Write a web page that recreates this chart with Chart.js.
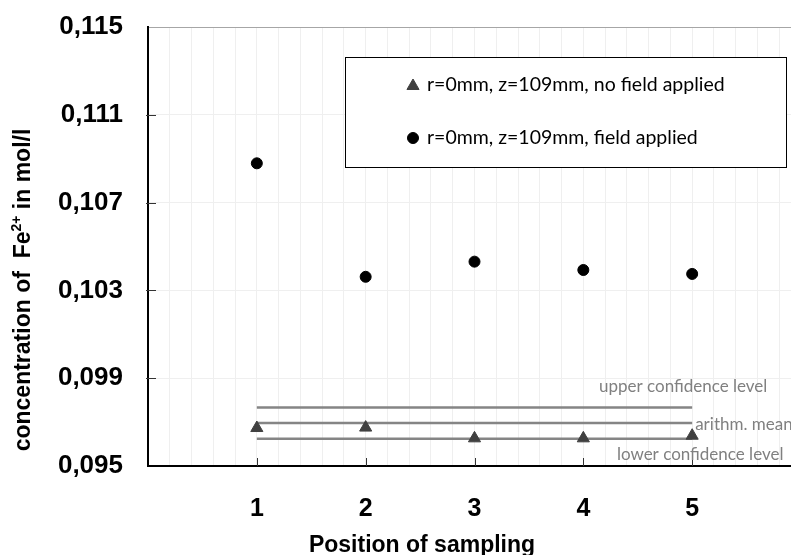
<!DOCTYPE html>
<html>
<head>
<meta charset="utf-8">
<script src="https://cdn.jsdelivr.net/npm/chart.js@4/dist/chart.umd.min.js"></script>
<style>
  html, body { margin: 0; padding: 0; background: #fff; overflow: hidden; }
  #wrap { width: 809px; height: 555px; }
</style>
</head>
<body>
<div id="wrap"><canvas id="chart"></canvas></div>
<script>
// sampling positions and measured Fe2+ concentrations (mol/l)
const positions = [1, 2, 3, 4, 5];
const noFieldValues = [0.09673, 0.09675, 0.09626, 0.09626, 0.09638];
const fieldValues = [0.10879, 0.10362, 0.10431, 0.10393, 0.10375];

// statistics of the "no field" series
const upperConfidence = 0.09766;
const arithmMean = 0.09696;
const lowerConfidence = 0.09624;
const statLabels = ['upper confidence level', 'arithm. mean', 'lower confidence level'];

const seriesLabels = ['r=0mm, z=109mm, no field applied', 'r=0mm, z=109mm, field applied'];
const xTickLabels = ['1', '2', '3', '4', '5'];
const yTicks = [0.095, 0.099, 0.103, 0.107, 0.111, 0.115];

const boldFont = '"Liberation Sans", Arial, sans-serif';
const lightFont = 'Lato, "Open Sans", sans-serif';

const toPoints = (ys) => positions.map((x, i) => ({ x: x, y: ys[i] }));
const flatLine = (v) => [{ x: positions[0], y: v }, { x: positions[positions.length - 1], y: v }];

// inward tick marks, axis titles, stat labels and the boxed legend
const decorations = {
  id: 'decorations',
  afterDatasetsDraw(chart) {
    const { ctx, chartArea: area, scales: { x, y } } = chart;
    ctx.save();

    // tick marks pointing into the plot
    ctx.strokeStyle = '#333';
    ctx.lineWidth = 1;
    positions.forEach((p) => {
      const px = Math.round(x.getPixelForValue(p)) + 0.5;
      ctx.beginPath();
      ctx.moveTo(px, area.bottom - 8);
      ctx.lineTo(px, area.bottom);
      ctx.stroke();
    });
    yTicks.slice(1, -1).forEach((v) => {
      const py = Math.round(y.getPixelForValue(v)) + 0.5;
      ctx.beginPath();
      ctx.moveTo(area.left - 2, py);
      ctx.lineTo(area.left + 8, py);
      ctx.stroke();
    });

    // labels of the statistic lines
    const endX = x.getPixelForValue(positions[positions.length - 1]);
    ctx.fillStyle = '#808080';
    ctx.font = '17px ' + lightFont;
    ctx.textBaseline = 'middle';
    ctx.textAlign = 'center';
    ctx.fillText(statLabels[0], endX - 9, y.getPixelForValue(upperConfidence) - 21);
    ctx.textAlign = 'left';
    ctx.fillText(statLabels[1], endX + 3, y.getPixelForValue(arithmMean) + 2);
    ctx.textAlign = 'center';
    ctx.fillText(statLabels[2], endX + 8, y.getPixelForValue(lowerConfidence) + 16);

    // legend box
    const bx = 345, by = 57, bw = 441, bh = 110;
    ctx.fillStyle = '#fff';
    ctx.fillRect(bx, by, bw, bh);
    ctx.strokeStyle = '#000';
    ctx.lineWidth = 1;
    ctx.strokeRect(bx + 0.5, by + 0.5, bw, bh);
    ctx.font = '19.5px ' + lightFont;
    ctx.textAlign = 'left';
    ctx.textBaseline = 'middle';
    [0, 1].forEach((i) => {
      const ds = chart.data.datasets[i];
      const cy = by + 28 + i * 53;
      ctx.fillStyle = ds.backgroundColor;
      ctx.strokeStyle = ds.borderColor;
      Chart.helpers.drawPoint(ctx, {
        pointStyle: ds.pointStyle, radius: ds.pointRadius, rotation: 0, borderWidth: 1
      }, bx + 68, cy + (i === 0 ? 1 : 0));
      ctx.fillStyle = '#000';
      ctx.fillText(ds.label, bx + 82, cy);
    });

    // axis titles
    ctx.fillStyle = '#000';
    ctx.textAlign = 'center';
    ctx.textBaseline = 'alphabetic';
    ctx.font = 'bold 23px ' + boldFont;
    ctx.fillText('Position of sampling', 422, 552);

    ctx.translate(30, 290);
    ctx.rotate(-Math.PI / 2);
    const a = 'concentration of  Fe', sup = '2+', b = ' in mol/l';
    ctx.font = 'bold 23px ' + boldFont;
    const wa = ctx.measureText(a).width, wb = ctx.measureText(b).width;
    ctx.font = 'bold 14px ' + boldFont;
    const ws = ctx.measureText(sup).width;
    let cx = -(wa + ws + wb) / 2;
    ctx.textAlign = 'left';
    ctx.font = 'bold 23px ' + boldFont;
    ctx.fillText(a, cx, 0);
    cx += wa;
    ctx.font = 'bold 14px ' + boldFont;
    ctx.fillText(sup, cx, -9);
    cx += ws;
    ctx.font = 'bold 23px ' + boldFont;
    ctx.fillText(b, cx, 0);

    ctx.restore();
  }
};

const statLine = (v) => ({
  type: 'line',
  data: flatLine(v),
  borderColor: '#858585',
  borderWidth: 2.5,
  pointRadius: 0,
  fill: false
});

new Chart(document.getElementById('chart'), {
  type: 'scatter',
  data: {
    datasets: [
      {
        label: seriesLabels[0],
        data: toPoints(noFieldValues),
        pointStyle: 'triangle',
        pointRadius: 7,
        backgroundColor: '#404040',
        borderColor: '#404040',
        borderWidth: 1
      },
      {
        label: seriesLabels[1],
        data: toPoints(fieldValues),
        pointStyle: 'circle',
        pointRadius: 5.5,
        backgroundColor: '#000',
        borderColor: '#000',
        borderWidth: 1
      },
      statLine(upperConfidence),
      statLine(arithmMean),
      statLine(lowerConfidence)
    ]
  },
  options: {
    responsive: true,
    maintainAspectRatio: false,
    animation: false,
    events: [],
    layout: { padding: { top: 27, right: 0, left: 0, bottom: 0 } },
    plugins: { legend: { display: false }, tooltip: { enabled: false } },
    scales: {
      x: {
        type: 'linear',
        min: 0,
        max: 6,
        afterFit: (s) => {
          s.height = 89;
          s.paddingLeft = 0;
          s.paddingRight = 0;
        },
        border: { color: '#000', width: 2 },
        grid: { color: '#efefef', drawTicks: false },
        ticks: {
          stepSize: 0.2,
          autoSkip: false,
          maxRotation: 0,
          padding: 28,
          color: '#000',
          font: { family: boldFont, size: 25, weight: 'bold' },
          callback: (v) => {
            const i = positions.findIndex((p) => Math.abs(p - v) < 1e-6);
            return i >= 0 ? xTickLabels[i] : '';
          }
        }
      },
      y: {
        min: yTicks[0],
        max: yTicks[yTicks.length - 1],
        afterFit: (s) => {
          s.width = 148;
          s.paddingTop = 0;
          s.paddingBottom = 0;
        },
        afterBuildTicks: (s) => { s.ticks = yTicks.map((v) => ({ value: v })); },
        border: { color: '#000', width: 2 },
        grid: {
          drawTicks: false,
          color: (c) => (c.tick && c.tick.value === yTicks[yTicks.length - 1] ? '#a6a6a6' : '#efefef')
        },
        ticks: {
          padding: 25,
          color: '#000',
          font: { family: boldFont, size: 26, weight: 'bold' },
          callback: (v) => v.toFixed(3).replace('.', ',')
        }
      }
    }
  },
  plugins: [decorations]
});
</script>
</body>
</html>
